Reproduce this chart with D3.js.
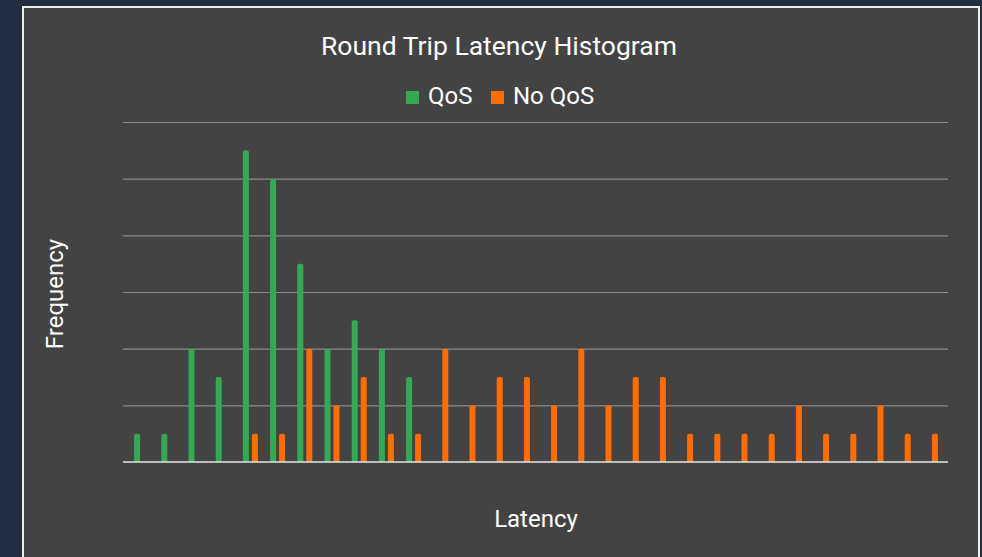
<!DOCTYPE html>
<html>
<head>
<meta charset="utf-8">
<script src="https://cdn.jsdelivr.net/npm/d3@7"></script>
<style>
  html, body { margin: 0; padding: 0; background: #222d3f; }
  svg { display: block; }
</style>
</head>
<body>
<script>
// latency bins (unlabelled in the source chart)
const bins = d3.range(1, 31).map(String);
const qos = [1, 1, 4, 3, 11, 10, 7, 4, 5, 4, 3, 0, 0, 0, 0, 0, 0, 0, 0, 0, 0, 0, 0, 0, 0, 0, 0, 0, 0, 0];
const noQos = [0, 0, 0, 0, 1, 1, 4, 2, 3, 1, 1, 4, 2, 3, 3, 2, 4, 2, 3, 3, 1, 1, 1, 1, 2, 1, 1, 2, 1, 1];
const seriesNames = ['QoS', 'No QoS'];
const gridTicks = [2, 4, 6, 8, 10, 12];

const width = 982;
const height = 557;
const colors = ['#34a853', '#ff6d01'];

const svg = d3.select('body').append('svg')
  .attr('width', width)
  .attr('height', height);

// card
svg.append('rect')
  .attr('x', 23).attr('y', 7)
  .attr('width', 956).attr('height', 560)
  .attr('fill', '#434343')
  .attr('stroke', '#eeeeee')
  .attr('stroke-width', 2);

const x = d3.scaleBand()
  .domain(bins)
  .range([128, 944]);

const xSeries = d3.scaleOrdinal()
  .domain(seriesNames)
  .range([-4.5, 4.5]);

const y = d3.scaleLinear()
  .domain([0, 12])
  .range([462, 122]);

// gridlines
svg.append('g')
  .attr('transform', 'translate(123,0)')
  .call(d3.axisLeft(y).tickValues(gridTicks).tickSize(-825).tickFormat(''))
  .call((g) => g.select('.domain').remove())
  .call((g) => g.selectAll('.tick line')
    .attr('stroke', '#8a8a8a')
    .attr('stroke-width', 1.2));

// bars
const barW = 6;
const rows = [];
seriesNames.forEach((s, si) => {
  const vals = si === 0 ? qos : noQos;
  bins.forEach((b, i) => {
    if (vals[i] > 0) rows.push({ bin: b, series: s, value: vals[i], color: colors[si] });
  });
});

svg.append('g')
  .selectAll('path')
  .data(rows)
  .join('path')
  .attr('fill', (d) => d.color)
  .attr('d', (d) => {
    const cx = x(d.bin) + x.bandwidth() / 2 + xSeries(d.series);
    const x0 = cx - barW / 2, x1 = cx + barW / 2;
    const y0 = y(0), y1 = y(d.value);
    const r = 2;
    return `M${x0},${y0}V${y1 + r}Q${x0},${y1} ${x0 + r},${y1}H${x1 - r}Q${x1},${y1} ${x1},${y1 + r}V${y0}Z`;
  });

// baseline over bars
svg.append('line')
  .attr('x1', 123).attr('x2', 948)
  .attr('y1', y(0)).attr('y2', y(0))
  .attr('stroke', '#e6e6e6').attr('stroke-width', 1.6);

const font = 'Roboto, sans-serif';

svg.append('text')
  .attr('x', 499).attr('y', 55)
  .attr('text-anchor', 'middle')
  .attr('fill', '#ffffff')
  .attr('font-family', font)
  .attr('font-size', 26.5)
  .text('Round Trip Latency Histogram');

// legend
const legend = svg.append('g').attr('font-family', font).attr('font-size', 24).attr('fill', '#ffffff');
const legendX = [406, 491];
seriesNames.forEach((s, i) => {
  legend.append('rect')
    .attr('x', legendX[i]).attr('y', 91)
    .attr('width', 13).attr('height', 13)
    .attr('fill', colors[i]);
  legend.append('text')
    .attr('x', legendX[i] + 22).attr('y', 104)
    .text(s);
});

svg.append('text')
  .attr('transform', 'translate(63,294) rotate(-90)')
  .attr('text-anchor', 'middle')
  .attr('fill', '#ffffff')
  .attr('font-family', font)
  .attr('font-size', 24)
  .text('Frequency');

svg.append('text')
  .attr('x', 536).attr('y', 527)
  .attr('text-anchor', 'middle')
  .attr('fill', '#ffffff')
  .attr('font-family', font)
  .attr('font-size', 24)
  .text('Latency');
</script>
</body>
</html>
